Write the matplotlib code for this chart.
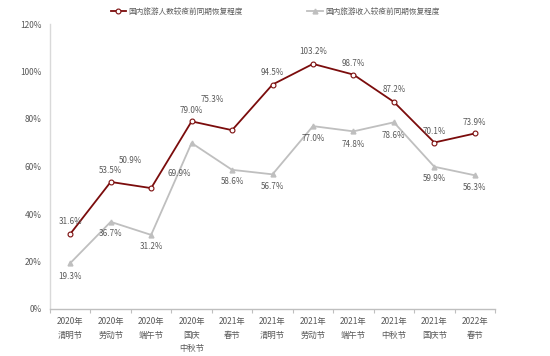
import matplotlib
matplotlib.use("Agg")
import matplotlib.pyplot as plt
from matplotlib.lines import Line2D

plt.rcParams['font.family'] = ['Noto Sans CJK SC', 'DejaVu Sans']

categories = ["2020年\n清明节", "2020年\n劳动节", "2020年\n端午节", "2020年\n国庆\n中秋节",
              "2021年\n春节", "2021年\n清明节", "2021年\n劳动节", "2021年\n端午节",
              "2021年\n中秋节", "2021年\n国庆节", "2022年\n春节"]
visitors = [31.6, 53.5, 50.9, 79.0, 75.3, 94.5, 103.2, 98.7, 87.2, 70.1, 73.9]
revenue = [19.3, 36.7, 31.2, 69.9, 58.6, 56.7, 77.0, 74.8, 78.6, 59.9, 56.3]
series_names = ["国内旅游人数较疫前同期恢复程度", "国内旅游收入较疫前同期恢复程度"]
yticks = [0, 20, 40, 60, 80, 100, 120]

# label offsets in pixels (layout)
v_off = [(0, 12), (0, 11), (-21, 28), (0, 11), (-20, 31), (0, 12), (0, 12), (0, 11), (0, 12), (0, 11), (0, 11)]
r_off = [(0, -13), (0, -12), (0, -12), (-12, -31), (0, -12), (0, -12), (0, -12), (0, -13), (0, -13), (0, -12), (0, -12)]

red = '#7B0C0C'
grey = '#BFBFBF'
txt = '#595959'

fig = plt.figure(figsize=(5.5, 3.56), dpi=100)
ax = fig.add_axes([50/550, 1-309/356, 445/550, 285/356])

x = list(range(len(categories)))
ax.plot(x, revenue, color=grey, lw=1.3, marker='^', ms=3.5, mfc=grey, mec=grey, zorder=2)
ax.plot(x, visitors, color=red, lw=1.3, marker='o', ms=3.5, mfc='white', mec=red, mew=0.8, zorder=3)

for i, v in enumerate(visitors):
    ax.annotate(f"{v:.1f}%", (i, v), xytext=v_off[i], textcoords='offset pixels',
                ha='center', va='center', fontsize=5.8, color=txt)
for i, v in enumerate(revenue):
    ax.annotate(f"{v:.1f}%", (i, v), xytext=r_off[i], textcoords='offset pixels',
                ha='center', va='center', fontsize=5.8, color=txt)

ax.set_xlim(-0.5, len(categories) - 0.5)
ax.set_ylim(0, 120)
ax.set_yticks(yticks)
ax.set_yticklabels([f"{t}%" for t in yticks], fontsize=6, color=txt)
ax.tick_params(axis='y', length=0, pad=6)
ax.set_xticks(x)
ax.set_xticklabels(categories, fontsize=6, color=txt, linespacing=1.65)
ax.set_xticks([i - 0.5 for i in range(len(categories) + 1)], minor=True)
ax.tick_params(axis='x', which='major', length=0, pad=6)
ax.tick_params(axis='x', which='minor', length=3, color=grey, width=0.8)

for s in ['top', 'right']:
    ax.spines[s].set_visible(False)
ax.spines['left'].set_color('#D9D9D9')
ax.spines['bottom'].set_color(grey)
ax.spines['left'].set_linewidth(1.0)
ax.spines['bottom'].set_linewidth(1.0)

handles = [Line2D([], [], color=red, lw=1.3, marker='o', ms=3.5, mfc='white', mec=red, mew=0.8),
           Line2D([], [], color=grey, lw=1.3, marker='^', ms=3.5, mfc=grey, mec=grey)]
fig.legend(handles, series_names, loc='center', bbox_to_anchor=(0.5, 1-12/356), ncol=2,
           frameon=False, fontsize=5.5, labelcolor=txt, handlelength=2.0, handletextpad=0.3,
           columnspacing=8.5)

fig.savefig('out.png', dpi=100)
